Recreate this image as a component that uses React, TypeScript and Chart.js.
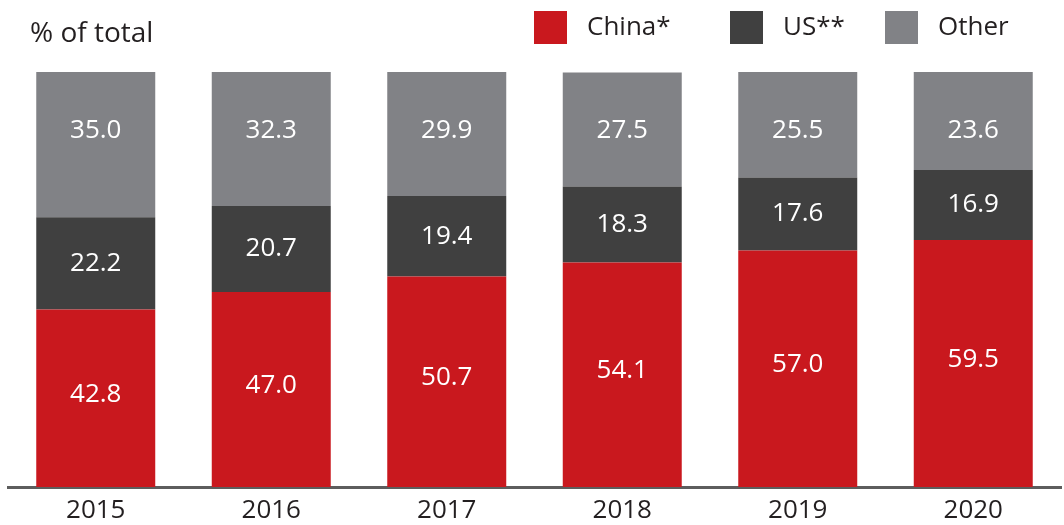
import React, { useEffect, useRef } from "react";
import { Chart, registerables } from "chart.js";

Chart.register(...registerables);

const years = ["2015", "2016", "2017", "2018", "2019", "2020"];
const china = [42.8, 47.0, 50.7, 54.1, 57.0, 59.5];
const us = [22.2, 20.7, 19.4, 18.3, 17.6, 16.9];
const other = [35.0, 32.3, 29.9, 27.5, 25.5, 23.6];
const seriesNames = ["China*", "US**", "Other"];
const seriesColors = ["#C9181E", "#404040", "#818286"];
const unitLabel = "% of total";

const FONT = "'Open Sans', 'Noto Sans', sans-serif";
const TEXT = "#231f20";

const labelsPlugin = {
  id: "segLabels",
  afterDatasetsDraw(chart: any) {
    const ctx = chart.ctx;
    const yScale = chart.scales.y;
    ctx.save();
    ctx.font = `26px ${FONT}`;
    ctx.fillStyle = "#ffffff";
    ctx.textAlign = "center";
    ctx.textBaseline = "middle";
    chart.data.datasets.forEach((ds: any, di: number) => {
      const meta = chart.getDatasetMeta(di);
      meta.data.forEach((bar: any, i: number) => {
        const v = ds.data[i];
        let y = (bar.y + bar.base) / 2;
        if (di === 0) y -= 4;
        if (di === 2) y = yScale.getPixelForValue(86);
        ctx.fillText(v.toFixed(1), bar.x, y);
      });
    });
    ctx.restore();
  },
};

const headerPlugin = {
  id: "header",
  afterDraw(chart: any) {
    const ctx = chart.ctx;
    ctx.save();
    ctx.fillStyle = TEXT;
    ctx.textAlign = "left";
    ctx.textBaseline = "middle";
    ctx.font = `28px ${FONT}`;
    ctx.fillText(unitLabel, 30, 34);
    ctx.font = `26px ${FONT}`;
    const boxX = [534, 730, 885];
    seriesNames.forEach((name, i) => {
      ctx.fillStyle = seriesColors[i];
      ctx.fillRect(boxX[i], 11, 33, 33);
      ctx.fillStyle = TEXT;
      ctx.fillText(name, boxX[i] + 53, 28);
    });
    ctx.restore();
  },
};

export default function App() {
  const ref = useRef<HTMLCanvasElement>(null);
  useEffect(() => {
    if (!ref.current) return;
    const chart = new Chart(ref.current, {
      type: "bar",
      data: {
        labels: years,
        datasets: [china, us, other].map((d, i) => ({
          label: seriesNames[i],
          data: d,
          backgroundColor: seriesColors[i],
          borderWidth: 0,
          barPercentage: 0.678,
          categoryPercentage: 1,
        })),
      },
      options: {
        responsive: false,
        animation: false,
        layout: { padding: { top: 72, left: 8, right: 3, bottom: 0 } },
        plugins: {
          legend: { display: false },
          tooltip: { enabled: false },
          title: { display: false },
        },
        scales: {
          x: {
            stacked: true,
            grid: { display: false, drawTicks: false },
            border: { display: true, color: "#5d5d5d", width: 3 },
            ticks: {
              font: { family: FONT, size: 26 },
              color: TEXT,
              padding: 8,
            },
            afterFit(scale: any) {
              scale.height = 38;
            },
          },
          y: {
            stacked: true,
            display: false,
            min: 0,
            max: 100,
          },
        },
      },
      plugins: [labelsPlugin, headerPlugin],
    });
    return () => chart.destroy();
  }, []);
  return (
    <div style={{ position: "absolute", left: 0, top: 0, width: 1064, height: 525 }}>
      <canvas ref={ref} width={1064} height={525} />
    </div>
  );
}
